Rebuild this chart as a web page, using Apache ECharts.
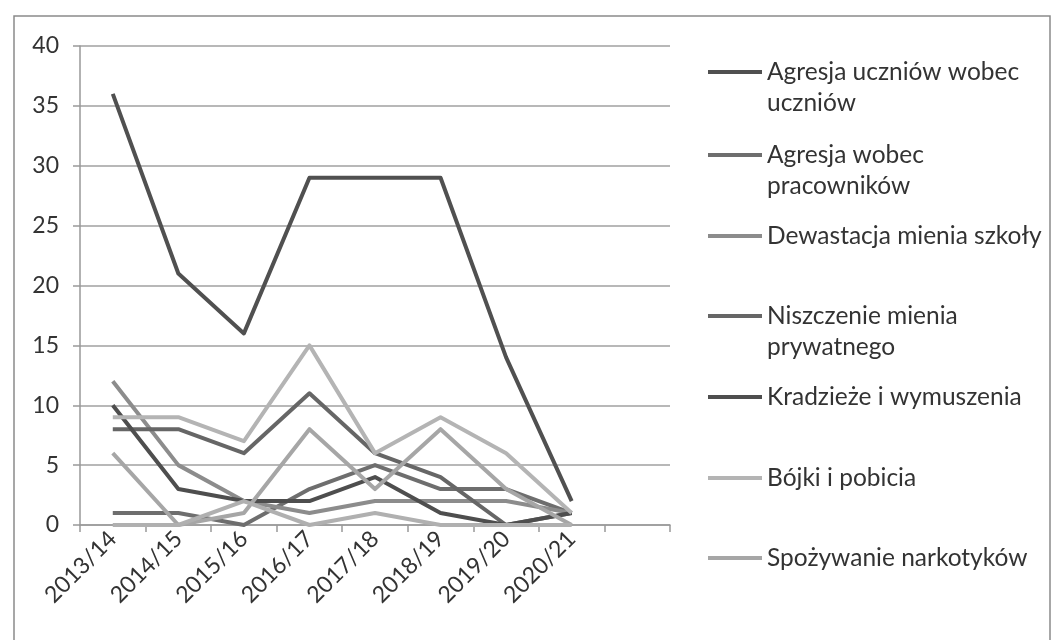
<!DOCTYPE html>
<html>
<head>
<meta charset="utf-8">
<script src="https://cdn.jsdelivr.net/npm/echarts@6/dist/echarts.min.js"></script>
<style>html,body{margin:0;padding:0;background:#fff}#c{width:1057px;height:640px}</style>
</head>
<body>
<div id="c"></div>
<script>
// categories (the ninth slot is empty in the original chart)
const categories = ['2013/14','2014/15','2015/16','2016/17','2017/18','2018/19','2019/20','2020/21',''];
const yTicks = [0,5,10,15,20,25,30,35,40];

const agresjaUczniow = [36,21,16,29,29,29,14,2];
const agresjaPracownikow = [1,1,0,3,5,3,3,1];
const dewastacja = [12,5,2,1,2,2,2,1];
const niszczenie = [8,8,6,11,6,4,0,1];
const kradzieze = [10,3,2,2,4,1,0,1];
const bojki = [9,9,7,15,6,9,6,1];
const narkotyki = [6,0,1,8,3,8,3,0];
const ukrytaSeria = [0,0,2,0,1,0,0,0]; // 8th line, legend entry cut off in the source

const names = ['Agresja uczniów wobec\nuczniów','Agresja wobec\npracowników','Dewastacja mienia szkoły','Niszczenie mienia\nprywatnego','Kradzieże i wymuszenia','Bójki i pobicia','Spożywanie narkotyków'];
const colors = ['#505050','#6e6e6e','#8c8c8c','#666666','#4e4e4e','#b4b4b4','#a6a6a6','#b0b0b0'];
const seriesData = [agresjaUczniow,agresjaPracownikow,dewastacja,niszczenie,kradzieze,bojki,narkotyki,ukrytaSeria];

const FONT = 'Lato';
const legendTops = [72,155,236,316,397,478,558];
const LH = 31;

const legends = names.map((n,i)=>{
  const two = n.indexOf('\n')>=0;
  return {
    show: true,
    selectedMode: false,
    orient: 'vertical',
    left: 708,
    top: legendTops[i] - (two ? LH*1.5 : LH/2),
    padding: 0,
    icon: 'rect',
    itemWidth: 54,
    itemHeight: 4,
    data: [n],
    formatter: two ? (name => '\n' + name) : (name => name),
    textStyle: {fontFamily: FONT, fontSize: 24.5, color: '#333', lineHeight: LH}
  };
});

const chart = echarts.init(document.getElementById('c'), null, {renderer:'canvas'});
chart.setOption({
  animation: false,
  backgroundColor: '#fff',
  textStyle: {fontFamily: FONT},
  graphic: [{
    type: 'rect', shape: {x: 14, y: 16, width: 1036, height: 700},
    style: {fill: 'none', stroke: '#8a8a8a', lineWidth: 1.5}, silent: true, z: -1
  }],
  legend: legends,
  grid: {left: 80, top: 46, width: 590, height: 479, containLabel: false},
  xAxis: {
    type: 'category', data: categories, boundaryGap: true,
    axisLine: {show: true, lineStyle: {color: '#999', width: 1.5}},
    axisTick: {show: true, length: 7, interval: 0, lineStyle: {color: '#999', width: 1.5}},
    axisLabel: {interval: 0, rotate: 45, margin: 10, fontSize: 23, color: '#333', fontFamily: FONT},
    splitLine: {show: false}
  },
  yAxis: {
    type: 'value', min: yTicks[0], max: yTicks[yTicks.length-1], interval: 5,
    axisLine: {show: true, lineStyle: {color: '#999', width: 1.5}},
    axisTick: {show: true, length: 7, lineStyle: {color: '#999', width: 1.5}},
    axisLabel: {fontSize: 23, color: '#333', margin: 21, fontFamily: FONT},
    splitLine: {show: true, lineStyle: {color: '#a0a0a0', width: 1.6}}
  },
  series: seriesData.map((d,i)=>({
    type: 'line',
    name: i < names.length ? names[i] : 'seria8',
    data: d,
    symbol: 'none',
    color: colors[i],
    lineStyle: {width: 4, color: colors[i], join: 'round'},
    z: 2 + i
  }))
});
</script>
</body>
</html>
